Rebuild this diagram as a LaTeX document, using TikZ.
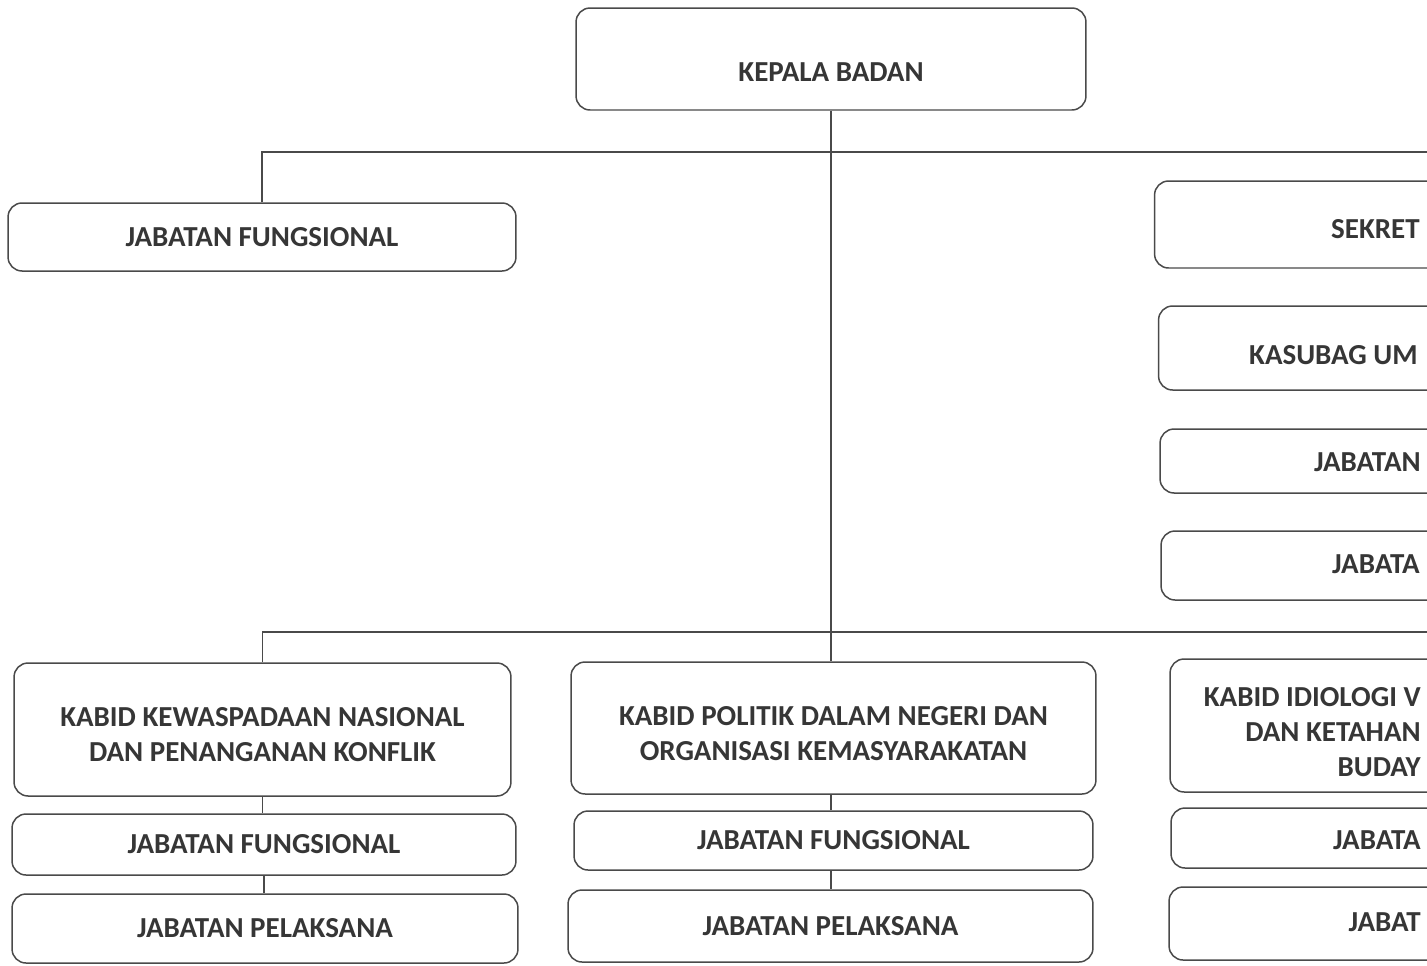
\documentclass[tikz,border=0pt]{standalone}
\usepackage{fontspec}
\setmainfont{Carlito}
\usetikzlibrary{positioning}

\definecolor{inkgray}{HTML}{363636}
\definecolor{linegray}{HTML}{4A4A4A}

\begin{document}
\begin{tikzpicture}[x=0.02cm, y=-0.02cm]
	\tikzset{
		mybox/.style={rectangle, rounded corners=0.28cm, draw=linegray, line width=0.85pt, inner sep=0pt, text=inkgray, align=center, font=\fontsize{16.5}{20}\selectfont\bfseries},
		myline/.style={draw=linegray, line width=0.85pt},
		mytext/.style={text=inkgray, inner sep=0pt, font=\fontsize{16.5}{20}\selectfont\bfseries}
	}
	\useasboundingbox (0,0) rectangle (1427,965);
	\clip (0,0) rectangle (1427,965);

	% top
	\node[mybox, minimum width=10.2cm, minimum height=2.04cm, text height=0.91cm] (kepala) at (831,59) {KEPALA BADAN};
	\node[mybox, minimum width=10.16cm, minimum height=1.36cm] (jfTop) at (262,237) {JABATAN FUNGSIONAL};

	% right column, cut at the edge
	\node[mybox, minimum width=12.9cm, minimum height=1.74cm] (sekret) at (1477,224.5) {};
	\node[mytext, anchor=east] (sekretTxt) at (1420,229) {SEKRET};
	\node[mybox, minimum width=12.82cm, minimum height=1.68cm] (kasubag) at (1479,348) {};
	\node[mytext, anchor=east] (kasubagTxt) at (1418,355) {KASUBAG UM};
	\node[mybox, minimum width=12.8cm, minimum height=1.28cm] (jabRightA) at (1480,461) {};
	\node[mytext, anchor=east] (jabRightATxt) at (1421,462) {JABATAN};
	\node[mybox, minimum width=12.78cm, minimum height=1.38cm] (jabRightB) at (1480.5,565.5) {};
	\node[mytext, anchor=east] (jabRightBTxt) at (1420,564) {JABATA};

	% bidang
	\node[mybox, minimum width=9.94cm, minimum height=2.66cm] (kabidA) at (262.5,729.5) {\rule{0pt}{0.6cm}KABID KEWASPADAAN NASIONAL\\DAN PENANGANAN KONFLIK};
	\node[mybox, minimum width=10.08cm, minimum height=1.22cm] (jfA) at (264,844.5) {JABATAN FUNGSIONAL};
	\node[mybox, minimum width=10.12cm, minimum height=1.38cm] (jpA) at (265,928.5) {JABATAN PELAKSANA};

	\node[mybox, minimum width=10.5cm, minimum height=2.64cm] (kabidB) at (833.5,728) {\rule{0pt}{0.6cm}KABID POLITIK DALAM NEGERI DAN\\ORGANISASI KEMASYARAKATAN};
	\node[mybox, minimum width=10.38cm, minimum height=1.18cm] (jfB) at (833.5,840.5) {JABATAN FUNGSIONAL};
	\node[mybox, minimum width=10.5cm, minimum height=1.44cm] (jpB) at (830.5,926) {JABATAN PELAKSANA};

	\node[mybox, minimum width=12.6cm, minimum height=2.66cm] (kabidC) at (1485,725.5) {};
	\node[mytext, anchor=east, align=right] (kabidCTxt) at (1421,732) {KABID IDIOLOGI V\\DAN KETAHAN\\BUDAY};
	\node[mybox, minimum width=12.58cm, minimum height=1.2cm] (jabBottomC) at (1485.5,838) {};
	\node[mytext, anchor=east] (jabBottomCTxt) at (1421,840) {JABATA};
	\node[mybox, minimum width=12.62cm, minimum height=1.46cm] (jabLowC) at (1484.5,923.5) {};
	\node[mytext, anchor=east] (jabLowCTxt) at (1421,922) {JABAT};

	\coordinate (edgeTop) at (1440,152);
	\coordinate (edgeLow) at (1440,632);

	\draw[myline] (kepala.south) -- (kepala.south |- kabidB.north);
	\draw[myline] (jfTop.north) |- (edgeTop);
	\draw[myline] (kabidA.north) |- (edgeLow);
	\draw[myline] (kabidA.south) -- (kabidA.south |- jfA.north);
	\draw[myline] (jfA.south) -- (jfA.south |- jpA.north);
	\draw[myline] (kepala.south |- kabidB.south) -- (kepala.south |- jfB.north);
	\draw[myline] (kepala.south |- jfB.south) -- (kepala.south |- jpB.north);
\end{tikzpicture}
\end{document}
